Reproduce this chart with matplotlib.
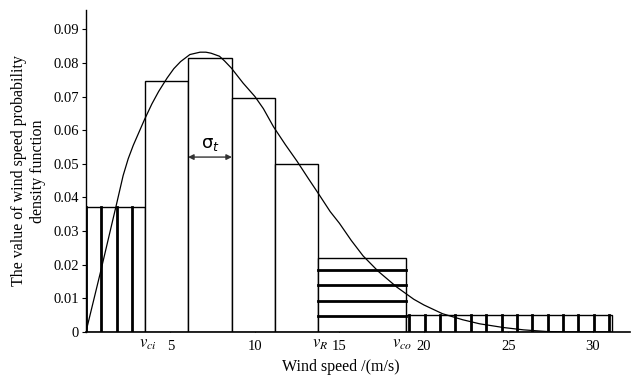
import numpy as np
import matplotlib
matplotlib.use("Agg")
import matplotlib.pyplot as plt
import matplotlib.transforms as mtransforms

plt.rcParams['font.family'] = ['Liberation Serif', 'DejaVu Serif']
plt.rcParams['mathtext.fontset'] = 'stix'

# histogram of wind speed (bin edges in m/s, bar heights)
bin_edges = [0, 3.47, 6.04, 8.64, 11.18, 13.76, 18.93, 31.1]
bin_heights = [0.037, 0.0745, 0.0815, 0.0695, 0.050, 0.022, 0.005]

# fitted probability density curve
curve_v = [0, 0.9, 1.8, 2.2, 2.5, 2.8, 3.45, 3.9, 4.3, 4.8, 5.2, 5.6, 6.15,
           6.75, 7.1, 7.4, 7.9, 8.2, 8.6, 9.3, 10.0, 10.5, 11.1, 11.8, 12.5,
           13.15, 13.8, 14.45, 15.0, 15.7, 16.4, 17.3, 18.4, 18.9, 19.4, 20.0,
           21.1, 22.3, 23.3, 24.7, 25.9, 27.3, 28.5, 31.0]
curve_p = [0, 0.0186, 0.0378, 0.0465, 0.0515, 0.0555, 0.063, 0.0678, 0.0715,
           0.0755, 0.0783, 0.0804, 0.0825, 0.0832, 0.0832, 0.0829, 0.082,
           0.0806, 0.0785, 0.074, 0.070, 0.0664, 0.061, 0.0557, 0.0507, 0.0457,
           0.0408, 0.0358, 0.0323, 0.0272, 0.0226, 0.018, 0.0133, 0.0115,
           0.0097, 0.008, 0.0054, 0.0036, 0.0024, 0.0013, 0.0006, 0.0001, 0.0, 0.0]

x_ticks = [5, 10, 15, 20, 25, 30]
y_ticks = [0, 0.01, 0.02, 0.03, 0.04, 0.05, 0.06, 0.07, 0.08, 0.09]
y_ticklabels = ['0', '0.01', '0.02', '0.03', '0.04', '0.05', '0.06', '0.07', '0.08', '0.09']
v_ticks = [3.47, 13.76, 18.93]
v_labels = [r'$v_{ci}$', r'$v_{R}$', r'$v_{co}$']

fig = plt.figure(figsize=(6.32, 3.78), dpi=100)
ax = fig.add_axes([0.136, 0.122, 0.861, 0.852])

lefts = np.array(bin_edges[:-1])
widths = np.diff(bin_edges)
ax.bar(lefts, bin_heights, width=widths, align='edge', facecolor='white',
       edgecolor='black', linewidth=1.0, zorder=2)

# hand drawn hatching: vertical in first and last bins, horizontal in the 6th
hx = 0.91
hy = 0.0046
for xv in np.arange(bin_edges[0], bin_edges[1], hx):
    ax.plot([xv, xv], [0, bin_heights[0]], color='black', lw=2.0, zorder=3)
for xv in np.arange(bin_edges[6] + 0.2, bin_edges[7], hx):
    ax.plot([xv, xv], [0, bin_heights[6]], color='black', lw=2.0, zorder=3)
for yv in np.arange(hy, bin_heights[5] - 0.001, hy):
    ax.plot([bin_edges[5], bin_edges[6]], [yv, yv], color='black', lw=2.0, zorder=3)

ax.plot(curve_v, curve_p, color='black', lw=0.9, zorder=4)

# sigma_t width marker over the modal bin
ax.annotate('', xy=(bin_edges[2], 0.052), xytext=(bin_edges[3], 0.052),
            arrowprops=dict(arrowstyle='<|-|>', color='#333333', lw=1.0,
                            mutation_scale=8, shrinkA=0, shrinkB=0), zorder=5)
ax.text((bin_edges[2] + bin_edges[3]) / 2, 0.0533, r'$\mathrm{\sigma}_{t}$',
        ha='center', va='bottom', fontsize=13, math_fontfamily='dejavusans')

ax.set_xlim(0, 32.2)
ax.set_ylim(0, 0.0958)
ax.spines['top'].set_visible(False)
ax.spines['right'].set_visible(False)
ax.spines['left'].set_linewidth(1.0)
ax.spines['bottom'].set_linewidth(1.2)

ax.set_xticks(x_ticks)
ax.set_xticklabels([str(t) for t in x_ticks])
ax.tick_params(axis='x', which='major', direction='in', length=4, labelsize=10.5, pad=6)
ax.set_yticks(y_ticks)
ax.set_yticklabels(y_ticklabels)
ax.tick_params(axis='y', direction='out', length=3, labelsize=10.5, pad=2)

# cut-in / rated / cut-out speed marks under the axis
trans = mtransforms.blended_transform_factory(ax.transData, ax.transAxes)
nudges = [2, 1, -2.5]  # points
for v, lab, dx in zip(v_ticks, v_labels, nudges):
    shift = mtransforms.ScaledTranslation(dx / 72, 0, fig.dpi_scale_trans)
    ax.text(v, -0.012, lab, transform=trans + shift, ha='center', va='top',
            fontsize=12)

ax.set_xlabel('Wind speed /(m/s)', fontsize=11.5)
ax.xaxis.set_label_coords(0.469, -0.085)
ax.xaxis.label.set_verticalalignment('top')
ax.set_ylabel('The value of wind speed probability\ndensity function',
              fontsize=11.5, labelpad=5, linespacing=1.25)

fig.savefig('out.png', dpi=100)
